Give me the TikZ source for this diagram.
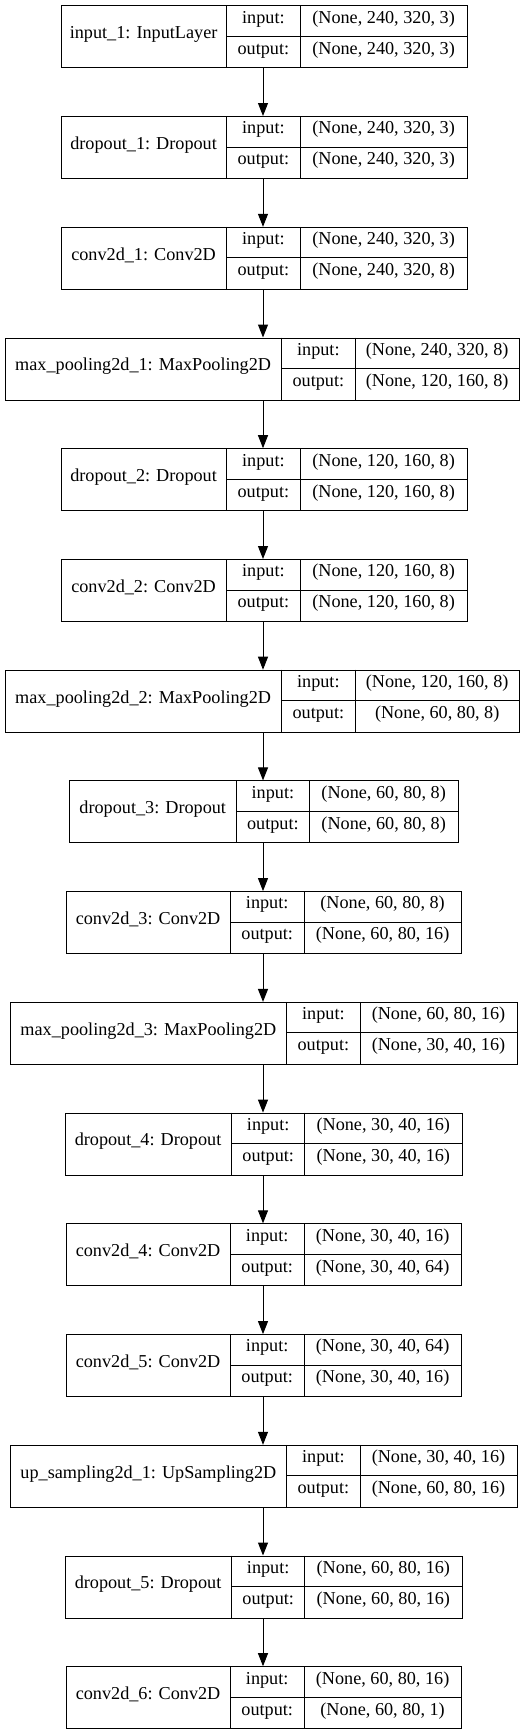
\documentclass[tikz,border=0pt]{standalone}
\usepackage{fontspec}
\setmainfont{Liberation Serif}
\usetikzlibrary{arrows.meta,calc}
\tikzset{
  boxframe/.style={draw=black, line width=1pt, anchor=north west, inner sep=0pt, minimum height=62pt},
  cellline/.style={draw=black, line width=1pt},
  txt/.style={inner sep=0pt, font=\fontsize{18.2}{20}\selectfont, text height=0.68em, text depth=0.22em},
  arr/.style={draw=black, line width=1pt, -{Triangle[length=13pt,width=10pt]}}
}
\newcommand\kerasbox[9]{%
  \node[boxframe, minimum width={(#6-#3)*1pt}] (#1) at (#3,#2) {};
  \draw[cellline] (#4,#2) -- (#4,{#2+62});
  \draw[cellline] (#5,#2) -- (#5,{#2+62});
  \draw[cellline] (#4,{#2+31}) -- (#6,{#2+31});
  \node[txt] (#1-lab) at ({(#3+#4)/2},{#2+31}) {#7};
  \node[txt] (#1-ki) at ({(#4+#5)/2},{#2+15.5}) {input:};
  \node[txt] (#1-ko) at ({(#4+#5)/2},{#2+46.5}) {output:};
  \node[txt] (#1-vi) at ({(#5+#6)/2},{#2+15.5}) {#8};
  \node[txt] (#1-vo) at ({(#5+#6)/2},{#2+46.5}) {#9};
}
\begin{document}
\begin{tikzpicture}[x=1pt,y=-1pt]
\useasboundingbox (0,0) rectangle (527,1733);
\coordinate (ax) at (263,0);
\kerasbox{b1}{5.3}{60.6}{226.6}{300.2}{467}{input\_1: InputLayer}{(None, 240, 320, 3)}{(None, 240, 320, 3)}
\kerasbox{b2}{116.0}{60.6}{226.6}{300.2}{467}{dropout\_1: Dropout}{(None, 240, 320, 3)}{(None, 240, 320, 3)}
\kerasbox{b3}{226.8}{60.6}{226.6}{300.2}{467}{conv2d\_1: Conv2D}{(None, 240, 320, 3)}{(None, 240, 320, 8)}
\kerasbox{b4}{337.5}{5}{281.3}{355.4}{519}{max\_pooling2d\_1: MaxPooling2D}{(None, 240, 320, 8)}{(None, 120, 160, 8)}
\kerasbox{b5}{448.2}{60.6}{226.6}{300.2}{467}{dropout\_2: Dropout}{(None, 120, 160, 8)}{(None, 120, 160, 8)}
\kerasbox{b6}{559.0}{60.6}{226.6}{300.2}{467}{conv2d\_2: Conv2D}{(None, 120, 160, 8)}{(None, 120, 160, 8)}
\kerasbox{b7}{669.7}{5}{281.3}{355.4}{519}{max\_pooling2d\_2: MaxPooling2D}{(None, 120, 160, 8)}{(None, 60, 80, 8)}
\kerasbox{b8}{780.4}{69.3}{236.2}{309.6}{457.7}{dropout\_3: Dropout}{(None, 60, 80, 8)}{(None, 60, 80, 8)}
\kerasbox{b9}{891.1}{66}{230.2}{304.2}{461}{conv2d\_3: Conv2D}{(None, 60, 80, 8)}{(None, 60, 80, 16)}
\kerasbox{b10}{1001.9}{10.1}{286.7}{360.1}{516.9}{max\_pooling2d\_3: MaxPooling2D}{(None, 60, 80, 16)}{(None, 30, 40, 16)}
\kerasbox{b11}{1112.6}{64.6}{231.5}{304.9}{461.7}{dropout\_4: Dropout}{(None, 30, 40, 16)}{(None, 30, 40, 16)}
\kerasbox{b12}{1223.3}{66}{230.2}{304.2}{461}{conv2d\_4: Conv2D}{(None, 30, 40, 16)}{(None, 30, 40, 64)}
\kerasbox{b13}{1334.1}{66}{230.2}{304.2}{461}{conv2d\_5: Conv2D}{(None, 30, 40, 64)}{(None, 30, 40, 16)}
\kerasbox{b14}{1444.8}{10.1}{286.7}{360.1}{516.9}{up\_sampling2d\_1: UpSampling2D}{(None, 30, 40, 16)}{(None, 60, 80, 16)}
\kerasbox{b15}{1555.5}{64.6}{231.5}{304.9}{461.7}{dropout\_5: Dropout}{(None, 60, 80, 16)}{(None, 60, 80, 16)}
\kerasbox{b16}{1666.2}{66}{230.2}{304.2}{461}{conv2d\_6: Conv2D}{(None, 60, 80, 16)}{(None, 60, 80, 1)}
\foreach \a/\b in {b1/b2,b2/b3,b3/b4,b4/b5,b5/b6,b6/b7,b7/b8,b8/b9,b9/b10,b10/b11,b11/b12,b12/b13,b13/b14,b14/b15,b15/b16}
  \draw[arr] (\a.south -| ax) -- (\b.north -| ax);
\end{tikzpicture}
\end{document}
